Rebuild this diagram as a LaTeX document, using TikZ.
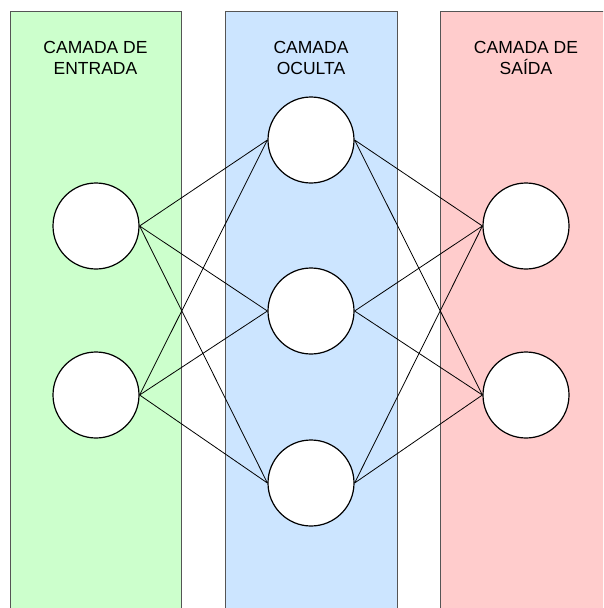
\documentclass[tikz,border=0pt]{standalone}
\usepackage{fontspec}
\setmainfont{Liberation Sans}
\definecolor{layergreen}{HTML}{CCFFCC}
\definecolor{layerblue}{HTML}{CCE5FF}
\definecolor{layerred}{HTML}{FFCCCC}
\definecolor{layeredge}{HTML}{555555}
\tikzset{
  layer/.style={draw=layeredge, line width=1pt},
  neuron/.style={circle, draw=black, line width=1.2pt, fill=white, minimum size=86pt, inner sep=0pt},
  title/.style={align=center, anchor=north, inner sep=0pt, font=\fontsize{17.5}{21}\selectfont},
  link/.style={draw=black, line width=0.8pt}
}
\begin{document}
\begin{tikzpicture}[x=1pt, y=-1pt]
  \useasboundingbox (0,0) rectangle (603,608);
  \clip (0,0) rectangle (603,608);
  % layer bands
  \filldraw[layer, fill=layergreen] (10,11) rectangle (181,640);
  \filldraw[layer, fill=layerblue]  (225,11) rectangle (397,640);
  \filldraw[layer, fill=layerred]   (440,11) rectangle (612,640);
  % layer titles
  \node[title] (tin)  at (95.5,41)  {CAMADA DE\\ENTRADA};
  \node[title] (thid) at (311,41)   {CAMADA\\OCULTA};
  \node[title] (tout) at (526,41)   {CAMADA DE\\SAÍDA};
  % neurons
  \node[neuron] (i1) at (96,226) {};
  \node[neuron] (i2) at (96,395) {};
  \node[neuron] (h1) at (311,140) {};
  \node[neuron] (h2) at (311,311) {};
  \node[neuron] (h3) at (311,483) {};
  \node[neuron] (o1) at (526,226) {};
  \node[neuron] (o2) at (526,395) {};
  % connections
  \foreach \a in {i1,i2}
    \foreach \b in {h1,h2,h3}
      \draw[link] (\a.east) -- (\b.west);
  \foreach \a in {h1,h2,h3}
    \foreach \b in {o1,o2}
      \draw[link] (\a.east) -- (\b.west);
\end{tikzpicture}
\end{document}
